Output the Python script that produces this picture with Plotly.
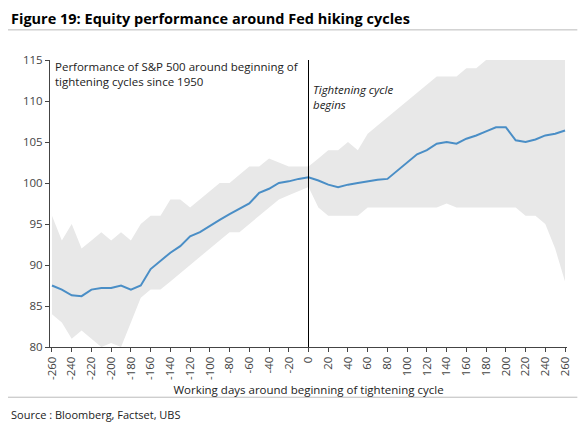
import plotly.graph_objects as go

days = list(range(-260, 261, 10))
median = [87.5, 87, 86.3, 86.2, 87, 87.2, 87.2, 87.5, 87, 87.5, 89.5, 90.5, 91.5, 92.3, 93.5,
          94, 94.8, 95.5, 96.2, 96.8, 97.5, 98.8, 99.3, 100, 100.2, 100.5, 100.7, 100.3, 99.8,
          99.5, 99.8, 100, 100.2, 100.4, 100.5, 101.5, 102.5, 103.5, 104, 104.8, 105, 104.8,
          105.4, 105.8, 106.3, 106.8, 106.8, 105.2, 105, 105.3, 105.8, 106, 106.4]
upper = [96, 93, 95, 92, 93, 94, 93, 94, 93, 95, 96, 96, 98, 98, 97, 98, 99, 100, 100, 101,
         102, 102, 103, 102.5, 102, 102, 102, 103, 104, 104, 105, 104, 106, 107, 108, 109, 110,
         111, 112, 113, 113, 113, 114, 114, 115, 115, 115, 115, 115, 115, 115, 115, 115]
lower = [84, 83, 81, 82, 81, 80, 80.5, 80, 83, 86, 87, 87, 88, 89, 90, 91, 92, 93, 94, 94, 95,
         96, 97, 98, 98.5, 99, 99.5, 97, 96, 96, 96, 96, 97, 97, 97, 97, 97, 97, 97, 97, 97.5,
         97, 97, 97, 97, 97, 97, 97, 96, 96, 95, 92, 88]
xticks = list(range(-260, 261, 20))
xticktext = [str(v) for v in xticks]

font = "Open Sans"
fig = go.Figure()
fig.add_trace(go.Scatter(x=days, y=lower, mode="lines", line=dict(width=0), showlegend=False))
fig.add_trace(go.Scatter(x=days, y=upper, mode="lines", line=dict(width=0), fill="tonexty",
                         fillcolor="#e8e8e8", showlegend=False))
fig.add_trace(go.Scatter(x=days, y=median, mode="lines", line=dict(color="#4a8ec6", width=2),
                         showlegend=False))

fig.add_shape(type="line", x0=0, x1=0, y0=80, y1=115, xref="x", yref="y",
              line=dict(color="black", width=1))
fig.add_shape(type="line", x0=-0.09, x1=1.02, y0=1.105, y1=1.105, xref="paper", yref="paper",
              line=dict(color="#bbbbbb", width=1))
fig.add_shape(type="line", x0=-0.09, x1=1.02, y0=-0.175, y1=-0.175, xref="paper", yref="paper",
              line=dict(color="#bbbbbb", width=1))

fig.add_annotation(text="<b>Figure 19: Equity performance around Fed hiking cycles</b>",
                   x=-0.08, y=1.145, xref="paper", yref="paper", xanchor="left", yanchor="middle",
                   showarrow=False, font=dict(size=14.5, color="black"))
fig.add_annotation(text="Performance of S&P 500 around beginning of<br>tightening cycles since 1950",
                   x=0.005, y=1.01, xref="paper", yref="paper", xanchor="left", yanchor="top",
                   align="left", showarrow=False, font=dict(size=11.5, color="#222"))
fig.add_annotation(text="<i>Tightening cycle<br>begins</i>", x=0.505, y=0.93, xref="paper",
                   yref="paper", xanchor="left", yanchor="top", align="left", showarrow=False,
                   font=dict(size=11.5, color="#222"))
fig.add_annotation(text="Source : Bloomberg, Factset, UBS", x=-0.08, y=-0.235, xref="paper",
                   yref="paper", xanchor="left", yanchor="middle", showarrow=False,
                   font=dict(size=11, color="#222"))

fig.update_layout(
    width=572, height=418, margin=dict(l=42, r=8, t=52, b=79),
    paper_bgcolor="white", plot_bgcolor="white",
    font=dict(family=font, size=11.5, color="#444"),
    xaxis=dict(range=[-262, 262], tickmode="array", tickvals=xticks, ticktext=xticktext,
               tickangle=-90, ticks="outside", ticklen=4, showgrid=False, zeroline=False,
               showline=True, linecolor="#444",
               title=dict(text="Working days around beginning of tightening cycle",
                          font=dict(size=11.5, color="#222"), standoff=6)),
    yaxis=dict(range=[80, 115], dtick=5, ticks="outside", ticklen=4, showgrid=False,
               zeroline=False, showline=True, linecolor="#444"),
)
fig.write_html("out.html")
